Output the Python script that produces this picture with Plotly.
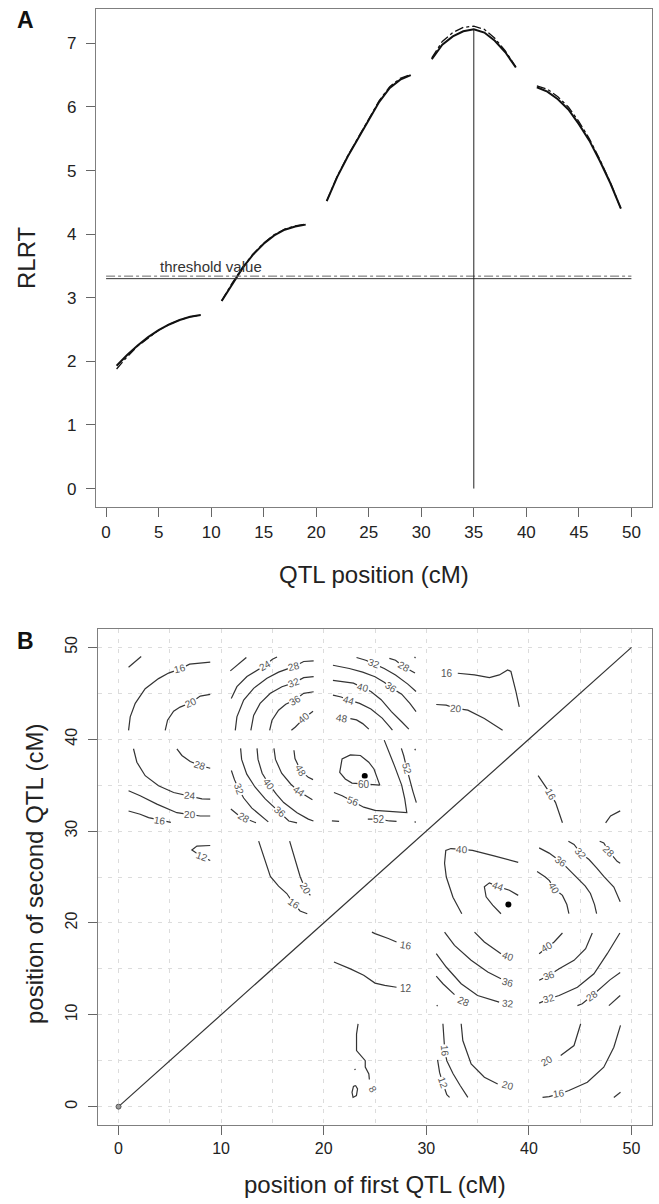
import plotly.graph_objects as go

W, H = 659, 1204
FONT = "Liberation Sans, Arial, sans-serif"

# ---------------- Panel A data ----------------
qtl_pos = [1, 2, 3, 4, 5, 6, 7, 8, 9,
           11, 12, 13, 14, 15, 16, 17, 18, 19,
           21, 22, 23, 24, 25, 26, 27, 28, 29,
           31, 32, 33, 34, 35, 36, 37, 38, 39,
           41, 42, 43, 44, 45, 46, 47, 48, 49]
rlrt_solid = [1.93, 2.10, 2.25, 2.38, 2.49, 2.58, 2.65, 2.70, 2.73,
              2.95, 3.22, 3.47, 3.68, 3.85, 3.98, 4.07, 4.12, 4.15,
              4.52, 4.90, 5.22, 5.50, 5.80, 6.08, 6.30, 6.43, 6.50,
              6.75, 6.98, 7.11, 7.19, 7.22, 7.17, 7.04, 6.86, 6.62,
              6.31, 6.24, 6.12, 5.96, 5.73, 5.47, 5.15, 4.80, 4.40]
rlrt_dashdot = [1.88, 2.07, 2.24, 2.37, 2.49, 2.58, 2.65, 2.70, 2.73,
                2.95, 3.23, 3.48, 3.69, 3.86, 3.99, 4.08, 4.13, 4.16,
                4.52, 4.91, 5.23, 5.52, 5.82, 6.10, 6.32, 6.45, 6.51,
                6.77, 7.03, 7.17, 7.25, 7.27, 7.22, 7.08, 6.88, 6.63,
                6.33, 6.28, 6.16, 6.00, 5.77, 5.50, 5.17, 4.81, 4.40]
threshold_x = [0, 50]
threshold_solid = 3.30
threshold_dashdot = 3.34
peak_pos = 35
peak_rlrt = 7.22
x_ticks_a = [0, 5, 10, 15, 20, 25, 30, 35, 40, 45, 50]
y_ticks_a = [0, 1, 2, 3, 4, 5, 6, 7]

lines_08 = [
    [(23.35, 9.0), (23.2, 7.9), (23.2, 6.1), (23.75, 5.4), (24.05, 5.0), (24.05, 4.3), (24.4, 3.55), (24.45, 2.95)],
    [(23.0, 4.0), (23.1, 4.1)],
    [(23.1, 2.3), (22.9, 2.2), (22.76, 1.56), (22.86, 1.0), (23.19, 1.2), (23.3, 1.93), (23.1, 2.3)],
]
lines_12 = [
    [(0.98, 47.84), (2.21, 49.0)],
    [(8.94, 28.43), (7.64, 28.36), (7.15, 27.95), (7.7, 27.5), (8.13, 27.2), (8.94, 26.8)],
    [(21.0, 15.75), (22.6, 15.0), (23.9, 14.3), (25.0, 13.45), (25.95, 13.2), (27.1, 13.0)],
    [(31.1, 5.1), (31.3, 3.7), (31.6, 2.6), (32.0, 1.3), (32.27, 1.0)],
    [(48.28, 1.0), (48.93, 1.56)],
]
lines_16 = [
    [(0.98, 40.97), (1.14, 42.43), (1.63, 43.9), (2.6, 45.5), (3.9, 46.6), (4.88, 47.2), (6.02, 47.66), (6.93, 48.17), (8.94, 48.4)],
    [(0.98, 32.19), (2.11, 31.83), (2.93, 31.46), (4.0, 31.2), (5.1, 30.95)],
    [(13.66, 28.9), (14.2, 27.0), (14.8, 25.06), (15.6, 24.0), (16.4, 23.2), (17.07, 22.1), (17.7, 21.3), (18.4, 21.0)],
    [(24.7, 19.0), (25.0, 18.84), (26.3, 18.3), (27.1, 17.93)],
    [(33.07, 47.18), (34.7, 47.0), (36.15, 46.7), (37.12, 47.0), (37.93, 47.55), (38.25, 47.37), (38.74, 45.17), (39.06, 43.53)],
    [(40.9, 36.03), (41.49, 35.12), (42.14, 34.0), (42.6, 33.1), (43.27, 30.9)],
    [(47.48, 30.9), (47.96, 31.65), (48.9, 32.2)],
    [(31.62, 9.02), (31.72, 7.2), (31.8, 6.1), (32.0, 5.0), (32.6, 3.6), (33.3, 2.3), (34.05, 1.0)],
    [(41.33, 1.0), (41.97, 1.09), (42.95, 1.38), (43.9, 1.75), (45.7, 2.65), (47.3, 4.29), (48.28, 6.47), (48.93, 8.84)],
]
lines_20 = [
    [(4.55, 40.97), (4.78, 42.07), (5.37, 43.05), (6.0, 43.5), (7.09, 44.0), (7.97, 44.7), (8.94, 44.88)],
    [(0.98, 34.39), (2.11, 33.84), (3.74, 32.93), (5.69, 32.0), (6.99, 31.79), (7.97, 31.64), (8.94, 31.64)],
    [(10.9, 47.44), (12.46, 48.9)],
    [(16.68, 28.9), (17.2, 27.0), (17.7, 25.06), (18.2, 23.7), (18.7, 23.0)],
    [(30.97, 43.78), (31.94, 43.71), (32.9, 43.35), (34.05, 43.16), (35.66, 42.25), (37.44, 40.97)],
    [(33.4, 9.02), (33.56, 7.2), (34.37, 4.65), (35.66, 3.2), (36.96, 2.47)],
    [(45.05, 9.02), (44.4, 6.65), (43.1, 5.56)],
]
lines_24 = [
    [(1.46, 38.96), (1.79, 37.5), (2.6, 36.03), (3.9, 34.94), (5.37, 34.2), (6.93, 33.84), (8.13, 33.5), (8.94, 33.47)],
    [(10.99, 44.44), (11.54, 45.72), (12.52, 46.82), (13.5, 47.55), (14.3, 48.05), (15.0, 48.7), (15.45, 48.95)],
    [(47.8, 11.0), (48.9, 12.1)],
]
lines_28 = [
    [(5.69, 38.96), (6.18, 38.23), (6.99, 37.57), (7.97, 37.13), (8.94, 36.84)],
    [(11.38, 40.97), (11.54, 42.43), (12.2, 44.26), (13.17, 45.54), (14.47, 46.64), (15.6, 47.3), (17.07, 47.9), (18.05, 48.46), (19.02, 48.54)],
    [(10.95, 32.4), (11.6, 31.8), (12.3, 31.4), (13.4, 30.9)],
    [(26.4, 48.8), (27.0, 48.6), (27.8, 47.9), (28.9, 47.2)],
    [(28.85, 48.95), (28.95, 48.85)],
    [(30.97, 14.2), (31.62, 13.38), (32.75, 12.2)],
    [(31.02, 11.05), (31.1, 10.95)],
    [(46.9, 28.9), (47.3, 28.7), (47.8, 27.8), (48.6, 26.7), (48.9, 26.5)],
    [(44.73, 11.0), (45.2, 11.2), (46.18, 12.1), (47.0, 12.9), (47.9, 13.8), (48.9, 14.6)],
]
lines_32 = [
    [(12.9, 40.97), (13.17, 42.6), (13.8, 43.9), (14.8, 45.0), (15.93, 45.72), (17.14, 46.16), (18.05, 46.7), (19.02, 46.82)],
    [(11.0, 36.6), (11.3, 35.6), (11.7, 34.6), (12.2, 33.6), (13.0, 32.5), (14.0, 31.5), (14.6, 31.0)],
    [(23.2, 48.9), (24.1, 48.6), (24.9, 48.2), (25.9, 47.7), (27.0, 47.0), (28.2, 46.0), (29.0, 45.2)],
    [(30.97, 16.65), (31.94, 15.2), (33.4, 13.38), (35.0, 12.1), (37.1, 11.38)],
    [(43.85, 28.9), (44.4, 28.54), (45.05, 27.6), (45.86, 26.9), (46.6, 26.0), (47.3, 25.06), (48.28, 23.9), (48.9, 22.3)],
    [(41.0, 11.27), (41.97, 11.75), (42.95, 12.1), (44.73, 13.0), (46.34, 14.47), (47.64, 16.65), (48.87, 18.9)],
]
lines_36 = [
    [(14.73, 40.97), (14.96, 42.07), (15.6, 43.16), (16.3, 43.8), (17.17, 44.26), (18.05, 44.99), (19.02, 45.17)],
    [(11.9, 39.0), (12.0, 37.8), (12.5, 36.2), (13.3, 34.8), (14.3, 33.5), (14.9, 32.9), (15.7, 32.1), (16.6, 31.1), (17.4, 30.9)],
    [(20.9, 48.05), (22.5, 47.7), (23.8, 47.3), (25.0, 46.8), (25.9, 46.2), (26.6, 45.6), (27.6, 44.9), (28.4, 43.9), (29.0, 43.0)],
    [(31.78, 19.0), (32.75, 17.56), (34.37, 15.93), (35.99, 14.65), (37.28, 13.93)],
    [(41.0, 28.17), (41.97, 27.6), (43.1, 26.7), (43.9, 25.8), (44.7, 24.9), (45.5, 24.0), (46.0, 23.2), (46.4, 22.0), (46.6, 21.0)],
    [(41.0, 13.75), (41.97, 14.3), (42.95, 15.0), (44.4, 15.93), (45.53, 17.2), (46.18, 18.9)],
]
lines_40 = [
    [(16.85, 40.97), (17.24, 41.33), (18.11, 42.32), (18.96, 43.05)],
    [(13.5, 39.0), (13.6, 37.8), (14.0, 36.3), (14.66, 35.1), (15.4, 34.0), (16.1, 33.1), (17.4, 32.0), (18.5, 31.3), (19.0, 31.1)],
    [(20.9, 46.4), (22.9, 46.1), (23.8, 45.6), (24.6, 45.2), (25.6, 44.3), (26.6, 43.0), (27.6, 41.9), (28.3, 41.1)],
    [(33.46, 21.0), (32.6, 22.8), (31.95, 25.0), (31.78, 26.5), (31.9, 27.9), (32.4, 28.1), (33.5, 28.0), (34.5, 27.9), (36.6, 27.3), (38.96, 26.6)],
    [(40.8, 25.6), (41.6, 25.0), (42.0, 24.6), (42.46, 23.75), (43.27, 23.0), (43.7, 22.0), (43.9, 21.0)],
    [(34.7, 19.0), (35.66, 17.93), (37.28, 16.65)],
    [(41.0, 16.65), (41.8, 17.4), (42.46, 17.93), (43.27, 18.9)],
]
lines_44 = [
    [(15.15, 39.0), (15.3, 37.8), (15.9, 36.3), (16.8, 35.1), (17.6, 34.3), (18.4, 33.7), (18.9, 33.4)],
    [(20.9, 44.8), (21.7, 44.6), (22.5, 44.25), (23.5, 43.9), (24.6, 43.3), (25.7, 42.3), (26.4, 41.4), (26.7, 41.0)],
    [(37.28, 21.0), (36.47, 21.93), (35.83, 22.84), (35.66, 23.93), (36.15, 24.36), (37.0, 23.95), (38.1, 23.56), (38.96, 23.0)],
]
lines_48 = [
    [(17.1, 38.8), (17.2, 37.9), (17.75, 36.6), (18.5, 35.85), (18.96, 35.6)],
    [(22.6, 42.25), (23.2, 42.1), (23.8, 41.7), (24.4, 41.1)],
]
lines_52 = [
    [(20.8, 31.1), (21.5, 31.05)],
    [(24.3, 31.3), (25.4, 31.3), (26.4, 31.1), (27.1, 31.05)],
    [(27.57, 39.0), (27.8, 38.2), (28.1, 36.8), (28.4, 35.5), (28.7, 34.3), (29.03, 33.1)],
    [(28.88, 38.95), (28.95, 38.8)],
    [(28.88, 31.05), (28.95, 30.92)],
]
lines_56 = [
    [(21.0, 34.2), (21.8, 33.85), (22.9, 33.2), (23.9, 32.6), (25.0, 32.25), (26.5, 32.1), (28.1, 32.0),
     (27.9, 33.5), (27.6, 35.0), (26.9, 37.1), (26.4, 38.5), (25.9, 39.9)],
]
lines_60 = [
    [(25.47, 35.0), (24.9, 36.76), (24.39, 37.5), (23.58, 38.23), (22.6, 38.3), (21.79, 37.86), (21.56, 36.4),
     (22.1, 35.67), (22.76, 35.23), (23.9, 35.15), (24.9, 35.0), (25.47, 35.0)],
]

label_text = ["16", "20", "24", "28", "20", "16", "12",
              "24", "28", "32", "36", "40",
              "32", "28", "36", "40", "44", "48",
              "20", "16",
              "32", "28", "36", "40", "44", "48",
              "60", "56", "52", "52",
              "16", "20", "16",
              "36", "32", "28", "40",
              "40", "44",
              "40", "36", "32", "28",
              "40", "36", "32", "28",
              "16", "12",
              "16", "12", "20",
              "20", "16", "8"]
label_x = [6.02, 7.09, 6.93, 7.97, 6.99, 4.0, 8.13,
           14.3, 17.07, 17.14, 17.17, 18.11,
           11.7, 12.2, 15.7, 14.66, 17.6, 17.75,
           18.2, 17.07,
           24.9, 27.8, 26.6, 23.8, 22.5, 21.8,
           23.9, 22.9, 25.4, 28.1,
           32.0, 32.9, 42.14,
           43.1, 45.05, 47.8, 42.46,
           33.5, 37.0,
           37.99, 37.99, 37.99, 33.66,
           41.8, 41.97, 41.97, 46.18,
           28.06, 28.06,
           31.8, 31.6, 37.99,
           41.8, 42.95, 24.8]
label_y = [47.66, 44.0, 33.84, 37.13, 31.79, 31.2, 27.2,
           48.05, 47.9, 46.16, 44.26, 42.32,
           34.6, 31.5, 32.1, 35.1, 34.3, 36.6,
           23.7, 22.1,
           48.2, 47.9, 45.6, 45.6, 44.25, 42.3,
           35.05, 33.2, 31.3, 36.8,
           47.2, 43.35, 34.0,
           26.7, 27.6, 27.8, 23.75,
           28.0, 23.95,
           16.3, 13.56, 11.27, 11.5,
           17.4, 14.3, 11.75, 12.1,
           17.56, 12.9,
           6.1, 2.6, 2.29,
           5.0, 1.38, 1.9]
label_angle = [-15, -25, 5, 18, 3, 8, 20,
               -30, -15, -20, -30, -40,
               70, 30, 40, 55, 35, 60,
               60, 35,
               20, 30, 35, 15, 15, 10,
               0, 20, 0, 75,
               0, 5, 60,
               35, 50, 45, 60,
               3, 20,
               20, 15, 5, 25,
               -30, -20, -15, -35,
               10, 0,
               85, 70, 15,
               -30, -8, 60]

peak_x = [24, 38]
peak_y = [36, 22]
diag_x = [0, 50]
diag_y = [0, 50]
ticks_b = [0, 10, 20, 30, 40, 50]

# ---------------- helpers ----------------
def split_by_gap(xs, ys, gap=1.5):
    ox, oy = [], []
    for i, (x, y) in enumerate(zip(xs, ys)):
        if i > 0 and x - xs[i - 1] > gap:
            ox.append(None)
            oy.append(None)
        ox.append(x)
        oy.append(y)
    return ox, oy


def flatten(segments):
    xs, ys = [], []
    for seg in segments:
        for (x, y) in seg:
            xs.append(x)
            ys.append(y)
        xs.append(None)
        ys.append(None)
    return xs, ys


fig = go.Figure()

# ---------------- Panel A ----------------
sx, sy = split_by_gap(qtl_pos, rlrt_dashdot)
fig.add_trace(go.Scatter(x=sx, y=sy, mode="lines", xaxis="x", yaxis="y",
                         line=dict(color="#111111", width=1.3, dash="dashdot"),
                         showlegend=False, hoverinfo="skip"))
sx, sy = split_by_gap(qtl_pos, rlrt_solid)
fig.add_trace(go.Scatter(x=sx, y=sy, mode="lines", xaxis="x", yaxis="y",
                         line=dict(color="#111111", width=2.0),
                         showlegend=False, hoverinfo="skip"))
fig.add_trace(go.Scatter(x=threshold_x, y=[threshold_dashdot] * 2, mode="lines", xaxis="x", yaxis="y",
                         line=dict(color="#666666", width=1, dash="dashdot"),
                         showlegend=False, hoverinfo="skip"))
fig.add_trace(go.Scatter(x=threshold_x, y=[threshold_solid] * 2, mode="lines", xaxis="x", yaxis="y",
                         line=dict(color="#333333", width=1),
                         showlegend=False, hoverinfo="skip"))
fig.add_trace(go.Scatter(x=[peak_pos, peak_pos], y=[0, peak_rlrt], mode="lines", xaxis="x", yaxis="y",
                         line=dict(color="#222222", width=1),
                         showlegend=False, hoverinfo="skip"))

# ---------------- Panel B ----------------
fig.add_trace(go.Scatter(x=diag_x, y=diag_y, mode="lines", xaxis="x2", yaxis="y2",
                         line=dict(color="#333333", width=1.2),
                         showlegend=False, hoverinfo="skip"))

contour_lines = {8: lines_08, 12: lines_12, 16: lines_16, 20: lines_20, 24: lines_24,
                 28: lines_28, 32: lines_32, 36: lines_36, 40: lines_40, 44: lines_44,
                 48: lines_48, 52: lines_52, 56: lines_56, 60: lines_60}
for lev, segs in contour_lines.items():
    xs, ys = flatten(segs)
    fig.add_trace(go.Scatter(x=xs, y=ys, mode="lines", xaxis="x2", yaxis="y2",
                             line=dict(color="#333333", width=1.2),
                             name=str(lev), showlegend=False, hoverinfo="skip"))

fig.add_trace(go.Scatter(x=[diag_x[0]], y=[diag_y[0]], mode="markers", xaxis="x2", yaxis="y2",
                         marker=dict(size=5, color="#999999", line=dict(color="#555555", width=1)),
                         showlegend=False, hoverinfo="skip"))
fig.add_trace(go.Scatter(x=peak_x, y=peak_y, mode="markers", xaxis="x2", yaxis="y2",
                         marker=dict(size=6, color="#000000"),
                         showlegend=False, hoverinfo="skip"))

annotations = []
for t, x, y, a in zip(label_text, label_x, label_y, label_angle):
    annotations.append(dict(text=t, x=x, y=y, xref="x2", yref="y2", showarrow=False,
                            xanchor="center", yanchor="middle",
                            textangle=a, bgcolor="white", borderpad=0,
                            font=dict(family=FONT, size=10, color="#555555")))


def px(xp):
    return xp / W


def py(yp):
    return 1 - yp / H


def paper_text(text, x, y, size, angle=0, color="#222222"):
    return dict(text=text, x=px(x), y=py(y), xref="paper", yref="paper", showarrow=False,
                xanchor="center", yanchor="middle", textangle=angle,
                font=dict(family=FONT, size=size, color=color))


annotations += [
    paper_text("<b>A</b>", 25, 20, 23, color="#111111"),
    paper_text("<b>B</b>", 25, 641, 23, color="#111111"),
    paper_text("RLRT", 26, 258, 24, angle=-90),
    paper_text("QTL position (cM)", 374, 574, 24),
    paper_text("position of second QTL (cM)", 34, 874, 24, angle=-90),
    paper_text("position of first QTL (cM)", 375, 1184, 24),
    dict(text="threshold value", x=10.0, y=3.49, xref="x", yref="y", showarrow=False,
         xanchor="center", yanchor="middle",
         font=dict(family=FONT, size=15, color="#333333")),
]

axis_common = dict(showline=True, mirror=True, linecolor="#7f7f7f", linewidth=1.3,
                   ticks="outside", ticklen=9, tickcolor="#666666", tickwidth=1,
                   zeroline=False)

fig.update_layout(
    width=W, height=H, margin=dict(l=0, r=0, t=0, b=0),
    paper_bgcolor="white", plot_bgcolor="white", showlegend=False,
    font=dict(family=FONT),
    xaxis=dict(domain=[px(96), px(652)], range=[-0.96, 51.96], tickvals=x_ticks_a,
               showgrid=False, anchor="y", tickfont=dict(family=FONT, size=17, color="#222222"),
               **axis_common),
    yaxis=dict(domain=[py(507), py(9)], range=[-0.29, 7.54], tickvals=y_ticks_a,
               showgrid=False, anchor="x", ticklabelstandoff=6,
               tickfont=dict(family=FONT, size=17, color="#222222"), **axis_common),
    xaxis2=dict(domain=[px(98), px(652)], range=[-2, 52], tickvals=ticks_b, anchor="y2",
                showgrid=True, gridcolor="#dcdcdc", griddash="4px,6px", gridwidth=1,
                minor=dict(dtick=5, tick0=0, showgrid=True, gridcolor="#dcdcdc", griddash="4px,6px", ticks=""),
                tickfont=dict(family=FONT, size=16, color="#222222"), **axis_common),
    yaxis2=dict(domain=[py(1125), py(629)], range=[-2, 52], tickvals=ticks_b, anchor="x2",
                showgrid=True, gridcolor="#dcdcdc", griddash="4px,6px", gridwidth=1, tickangle=-90,
                minor=dict(dtick=5, tick0=0, showgrid=True, gridcolor="#dcdcdc", griddash="4px,6px", ticks=""),
                ticklabelstandoff=4, tickfont=dict(family=FONT, size=16, color="#222222"), **axis_common),
    annotations=annotations,
)

fig.write_html("out.html", config={"displayModeBar": False},
               post_script="document.body.style.margin='0px';")
